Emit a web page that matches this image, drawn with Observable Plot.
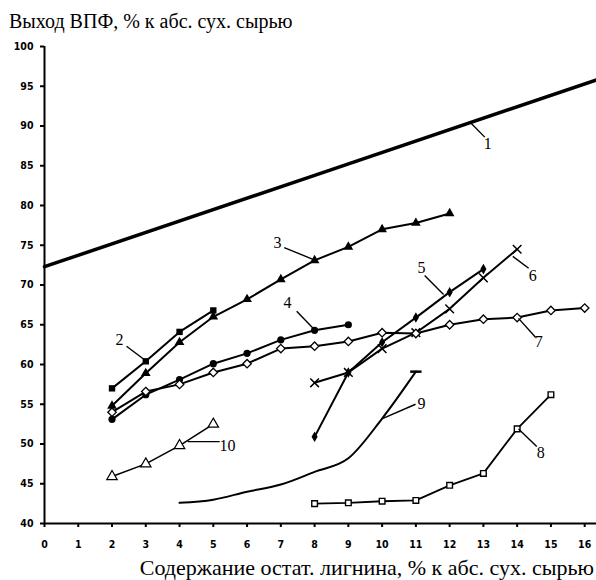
<!DOCTYPE html>
<html>
<head>
<meta charset="utf-8">
<script src="https://cdn.jsdelivr.net/npm/d3@7"></script>
<script src="https://cdn.jsdelivr.net/npm/@observablehq/plot@0.6"></script>
<style>
  body { margin: 0; background: #fff; }
  #wrap { position: relative; width: 596px; height: 580px; overflow: hidden; background: #fff; }
  #title { position: absolute; left: 9px; top: 11px; font: 20px/20px "Liberation Serif", serif; color: #000; white-space: nowrap; }
  #caption { position: absolute; right: 2px; top: 557px; font: 22px/22px "Liberation Serif", serif; color: #000; white-space: nowrap; }
  #chart { position: absolute; left: 0; top: 38px; }
</style>
</head>
<body>
<div id="wrap">
  <div id="title">Выход ВПФ, % к абс. сух. сырью</div>
  <div id="chart"></div>
  <div id="caption">Содержание остат. лигнина, % к абс. сух. сырью</div>
</div>
<script>
// ---- data ----
const xTicks = [0,1,2,3,4,5,6,7,8,9,10,11,12,13,14,15,16];
const yTicks = [40,45,50,55,60,65,70,75,80,85,90,95,100];

const s1x = [0, 8, 16.35];
const s1y = [72.3, 83.8, 95.8];
const s2x = [2, 3, 4, 5];
const s2y = [57, 60.4, 64.1, 66.8];
const s3x = [2, 3, 4, 5, 6, 7, 8, 9, 10, 11, 12];
const s3y = [54.8, 58.9, 62.8, 66, 68.2, 70.7, 73.1, 74.8, 77, 77.8, 79];
const s4x = [2, 3, 4, 5, 6, 7, 8, 9];
const s4y = [53.1, 56.2, 58.1, 60.1, 61.4, 63.1, 64.3, 65];
const s5x = [8, 9, 10, 11, 12, 13];
const s5y = [50.9, 59, 62.8, 65.9, 69.1, 72];
const s6x = [8, 9, 10, 11, 12, 13, 14];
const s6y = [57.7, 59, 62, 64, 67, 70.9, 74.5];
const s7x = [2, 3, 4, 5, 6, 7, 8, 9, 10, 11, 12, 13, 14, 15, 16];
const s7y = [54, 56.6, 57.5, 59, 60.1, 62, 62.3, 62.9, 64, 63.9, 65, 65.7, 65.9, 66.8, 67.1];
const s8x = [8, 9, 10, 11, 12, 13, 14, 15];
const s8y = [42.5, 42.6, 42.8, 42.9, 44.8, 46.3, 51.9, 56.2];
const s9x = [4, 5, 6, 7, 8, 9, 10, 11];
const s9y = [42.6, 43, 44, 44.9, 46.5, 48.2, 53.2, 59.1];
const s10x = [2, 3, 4, 5];
const s10y = [45.9, 47.5, 49.8, 52.5];

// curve labels and leader lines (data units)
const labelText = ["1","2","3","4","5","6","7","8","9","10"];
const labelX = [13.13, 2.22, 6.9, 7.2, 11.17, 14.46, 14.64, 14.7, 11.17, 5.42];
const labelY = [87.8, 63.1, 75.3, 67.7, 72.1, 71.1, 62.8, 48.9, 55.1, 49.8];
const leadX1 = [12.62, 2.43, 7.1, 7.47, 11.26, 13.87, 14.04, 14.04, 10.01, 4.24];
const leadY1 = [90.4, 62.3, 74.7, 66.7, 71.2, 73.6, 65.8, 51.9, 53.2, 50.3];
const leadX2 = [13.04, 2.99, 7.97, 7.97, 11.82, 14.34, 14.55, 14.58, 10.99, 5.19];
const leadY2 = [88.6, 60.5, 73.2, 64.5, 68.8, 72.1, 63.4, 49.7, 55.0, 50.3];

// ---- build tables ----
const pts = (xs, ys) => xs.map((x, i) => ({x, y: ys[i]}));
const d1 = pts(s1x, s1y), d2 = pts(s2x, s2y), d3 = pts(s3x, s3y), d4 = pts(s4x, s4y),
      d5 = pts(s5x, s5y), d6 = pts(s6x, s6y), d7 = pts(s7x, s7y), d8 = pts(s8x, s8y),
      d9 = pts(s9x, s9y), d10 = pts(s10x, s10y);
const labels = labelText.map((t, i) => ({t, x: labelX[i], y: labelY[i]}));
const leaders = labelText.map((t, i) => ({x1: leadX1[i], y1: leadY1[i], x2: leadX2[i], y2: leadY2[i]}));

const dash = { draw(ctx, size) { const w = Math.sqrt(size) * 0.8; ctx.moveTo(-w, 0); ctx.lineTo(w, 0); } };

const line = (d, opts = {}) => Plot.line(d, {x: "x", y: "y", stroke: "black", strokeWidth: 2, ...opts});

const chart = Plot.plot({
  width: 596,
  height: 512,
  marginLeft: 44,
  marginRight: 0,
  marginTop: 8,
  marginBottom: 27,
  x: {domain: [0, 16.35], axis: null},
  y: {domain: [40, 100], axis: null},
  style: {background: "white", color: "black", overflow: "visible"},
  marks: [
    Plot.axisY({ticks: yTicks, tickSize: 4, tickPadding: 7, strokeWidth: 2,
      fontFamily: "DejaVu Sans Condensed", fontSize: 10.5, fontWeight: "bold", tickFormat: d => d}),
    Plot.axisX({ticks: xTicks, tickSize: 4, tickPadding: 13, strokeWidth: 2,
      fontFamily: "DejaVu Sans Condensed", fontSize: 10.5, fontWeight: "bold", tickFormat: d => d}),
    Plot.ruleX([0], {strokeWidth: 2}),
    Plot.ruleY([40], {strokeWidth: 2}),
    line(d1, {strokeWidth: 3.5}),
    line(d2),
    line(d3),
    line(d4),
    line(d5),
    line(d6),
    line(d7),
    line(d8, {strokeWidth: 1.8}),
    line(d9, {curve: "monotone-x"}),
    line(d10, {strokeWidth: 1.6}),
    Plot.dot(d2, {x: "x", y: "y", symbol: "square", fill: "black", r: 3.6}),
    Plot.dot(d3, {x: "x", y: "y", symbol: "triangle", fill: "black", r: 3.6}),
    Plot.dot(d4, {x: "x", y: "y", symbol: "circle", fill: "black", r: 3.6}),
    Plot.dot(d5, {x: "x", y: "y", symbol: "diamond", fill: "black", r: 3.2}),
    Plot.dot(d6, {x: "x", y: "y", symbol: "times", stroke: "black", strokeWidth: 1.5, r: 4}),
    Plot.dot(d7, {x: "x", y: "y", symbol: "diamond2", fill: "white", stroke: "black", strokeWidth: 1.3, r: 3.8}),
    Plot.dot(d8, {x: "x", y: "y", symbol: "square2", fill: "white", stroke: "black", strokeWidth: 1.4, r: 3.6}),
    Plot.dot(d9.slice(-1), {x: "x", y: "y", symbol: dash, stroke: "black", strokeWidth: 2.5, r: 4}),
    Plot.dot(d10, {x: "x", y: "y", symbol: "triangle2", fill: "white", stroke: "black", strokeWidth: 1.2, r: 5}),
    Plot.link(leaders, {x1: "x1", y1: "y1", x2: "x2", y2: "y2", stroke: "black", strokeWidth: 1.4}),
    Plot.text(labels, {x: "x", y: "y", text: "t", fontFamily: "Liberation Serif", fontSize: 16, fill: "black"})
  ]
});
document.getElementById("chart").appendChild(chart);
</script>
</body>
</html>
